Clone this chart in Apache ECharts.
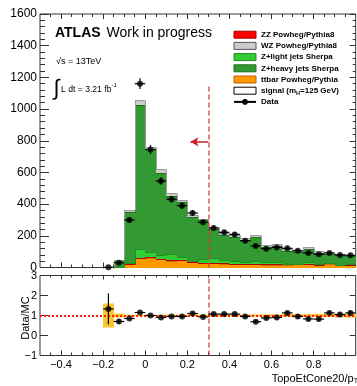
<!DOCTYPE html>
<html><head><meta charset="utf-8">
<script src="https://cdn.jsdelivr.net/npm/echarts@6/dist/echarts.min.js"></script>
<style>html,body{margin:0;padding:0;background:#fff}#c{width:357px;height:386px}</style>
</head><body><div id="c"></div>
<script>
// ---- data ----
const binEdges = [-0.2,-0.15,-0.1,-0.05,0,0.05,0.1,0.15,0.2,0.25,0.3,0.35,0.4,0.45,0.5,0.55,0.6,0.65,0.7,0.75,0.8,0.85,0.9,0.95,1.0];
const ttbar  = [0, 2, 22, 58, 62, 52, 43, 47, 33, 26, 26, 24, 23, 21, 19, 18, 18, 18, 21, 21, 13, 25, 13, 13];
const zz     = [0, 0, 3, 5, 5, 4, 3, 3, 2, 2, 2, 2, 2, 2, 2, 1, 1, 1, 1, 1, 1, 1, 1, 1];
const zLight = [0, 3, 3, 52, 29, 21, 37, 16, 5, 24, 34, 19, 14, 13, 22, 15, 15, 4, 2, 12, 8, 1, 3, 8];
const zHeavy = [0.8, 40, 324, 910, 652, 522, 369, 349, 277, 248, 179, 158, 156, 138, 152, 97, 104, 83, 76, 81, 72, 59, 62, 51];
const wz     = [0.1, 3, 11, 35, 10, 20, 17, 10, 15, 8, 15, 13, 12, 10, 12, 11, 10, 8, 7, 12, 10, 8, 7, 7];
const dataVals = [1, 30, 300, 1160, 745, 546, 431, 390, 344, 285, 249, 222, 209, 169, 136, 119, 127, 121, 106, 92, 83, 92, 79, 77];
const dataErr  = [1, 6, 17, 34, 27, 23, 21, 20, 19, 17, 16, 15, 14, 13, 12, 11, 11, 11, 10, 10, 9, 10, 9, 9];
const ratioVals = [1.33, 0.70, 0.85, 1.15, 1.00, 0.90, 0.95, 0.95, 1.10, 0.93, 1.07, 1.07, 1.07, 0.95, 0.69, 0.88, 0.90, 1.13, 0.95, 0.83, 0.82, 1.13, 1.05, 1.13];
const ratioErr  = [0.77, 0.12, 0.05, 0.03, 0.04, 0.04, 0.05, 0.05, 0.06, 0.06, 0.07, 0.07, 0.07, 0.08, 0.08, 0.09, 0.09, 0.1, 0.1, 0.1, 0.11, 0.11, 0.12, 0.12];
const mcBand    = [0.6, 0.1, 0.04, 0.03, 0.03, 0.03, 0.04, 0.04, 0.04, 0.04, 0.05, 0.05, 0.05, 0.05, 0.05, 0.06, 0.06, 0.07, 0.07, 0.07, 0.08, 0.08, 0.09, 0.1];
const xMajorTicks = [-0.4, -0.2, 0, 0.2, 0.4, 0.6, 0.8];
const xMinorTicks = [-0.45,-0.35,-0.3,-0.25,-0.15,-0.1,-0.05,0.05,0.1,0.15,0.25,0.3,0.35,0.45,0.5,0.55,0.65,0.7,0.75,0.85,0.9,0.95];
const cutX = 0.3, cutTop = 1150, arrowY = 793, arrowEnd = 0.215;
const names = {zz:'ZZ Powheg/Pythia8', wz:'WZ Powheg/Pythia8', zl:'Z+light jets Sherpa', zh:'Z+heavy jets Sherpa', tt:'ttbar Powheg/Pythia', sig:'signal (m_H=125 GeV)', data:'Data'};

// ---- build ----
const FONT = 'Liberation Sans';
const nb = dataVals.length;
const centers = [];
for (let i = 0; i < nb; i++) centers.push((binEdges[i] + binEdges[i+1]) / 2);

const comps = [
  {name: names.tt, vals: ttbar,  color: '#ff9900', line: '#d06a00'},
  {name: names.zz, vals: zz,     color: '#ff0000', line: '#b00000'},
  {name: names.zl, vals: zLight, color: '#33cc33', line: '#1f8f1f'},
  {name: names.zh, vals: zHeavy, color: '#339933', line: '#1e6e1e'},
  {name: names.wz, vals: wz,     color: '#cccccc', line: '#9a9a9a'}
];
const cum = new Array(nb).fill(0);
const stackSeries = comps.map(c => {
  const rows = [];
  for (let i = 0; i < nb; i++) {
    const base = cum[i], top = cum[i] + c.vals[i];
    rows.push([binEdges[i], binEdges[i+1], base, top]);
  }
  for (let i = 0; i < nb; i++) cum[i] += c.vals[i];
  return {
    type: 'custom', name: c.name, xAxisIndex: 0, yAxisIndex: 0, z: 2,
    itemStyle: {color: c.color},
    data: rows,
    renderItem: (params, api) => {
      const i = params.dataIndex;
      const lo = api.value(0), hi = api.value(1), base = api.value(2), top = api.value(3);
      const a = api.coord([lo, top]), b = api.coord([hi, base]);
      const x0 = Math.round(a[0]), x1 = Math.round(b[0]);
      const y0 = Math.round(a[1]), y1 = Math.round(b[1]);
      const children = [];
      if (y1 - y0 > 0) children.push({type: 'rect', shape: {x: x0, y: y0, width: x1 - x0, height: y1 - y0}, style: {fill: c.color}});
      const prevTop = i > 0 ? rows[i-1][3] : base;
      const py = Math.round(api.coord([lo, prevTop])[1]);
      if (top - base > 0.5 || prevTop - (i>0?rows[i-1][2]:0) > 0.5) {
        children.push({type: 'line', shape: {x1: x0, y1: y0 + 0.5, x2: x1, y2: y0 + 0.5}, style: {stroke: c.line, lineWidth: 1}});
        children.push({type: 'line', shape: {x1: x0 + 0.5, y1: py + 0.5, x2: x0 + 0.5, y2: y0 + 0.5}, style: {stroke: c.line, lineWidth: 1}});
      }
      return {type: 'group', children};
    }
  };
});

function errRender(vals, errs, clampMin) {
  return (params, api) => {
    const i = params.dataIndex;
    const lo = binEdges[i], hi = binEdges[i+1], c = centers[i], v = vals[i], e = errs[i];
    const pl = api.coord([lo, v]), ph = api.coord([hi, v]);
    const pu = api.coord([c, v + e]), pd = api.coord([c, Math.max(v - e, clampMin)]);
    return {type: 'group', children: [
      {type: 'line', shape: {x1: pl[0], y1: pl[1], x2: ph[0], y2: ph[1]}, style: {stroke: '#000', lineWidth: 1.2}},
      {type: 'line', shape: {x1: pu[0], y1: pu[1], x2: pd[0], y2: pd[1]}, style: {stroke: '#000', lineWidth: 1.2}}
    ]};
  };
}

const dashStyle = {color: 'rgba(214,60,60,0.85)', type: [5, 3], width: 1.5};

const series = [
  ...stackSeries,
  {type: 'custom', name: names.sig, xAxisIndex: 0, yAxisIndex: 0, data: [], itemStyle: {color: '#fff'}, renderItem: () => null},
  {type: 'line', name: names.data, xAxisIndex: 0, yAxisIndex: 0, data: [], symbol: 'circle', symbolSize: 5,
   itemStyle: {color: '#000'}, lineStyle: {color: '#000', width: 1}},
  {type: 'custom', name: 'dataErr', xAxisIndex: 0, yAxisIndex: 0, z: 5, data: centers.map((c, i) => [c, dataVals[i]]),
   renderItem: errRender(dataVals, dataErr, 0)},
  {type: 'scatter', name: 'dataPts', xAxisIndex: 0, yAxisIndex: 0, z: 6, symbol: 'circle', symbolSize: 6,
   itemStyle: {color: '#000'}, data: centers.map((c, i) => [c, dataVals[i]]),
   markLine: {silent: true, symbol: 'none', animation: false, label: {show: false}, z: 4,
     data: [
       [{coord: [cutX, 0], lineStyle: dashStyle}, {coord: [cutX, cutTop]}],
       [{coord: [cutX, arrowY], symbol: 'none', lineStyle: {color: '#c81e1e', width: 1.5, type: 'solid'}},
        {coord: [arrowEnd, arrowY], symbol: 'arrow', symbolSize: [7, 8]}]
     ]}},
  // ratio panel
  {type: 'custom', name: 'band', xAxisIndex: 4, yAxisIndex: 2, z: 2, data: centers.map((c, i) => [c, 1]),
   renderItem: (params, api) => {
     const i = params.dataIndex;
     const a = api.coord([binEdges[i], 1 + mcBand[i]]), b = api.coord([binEdges[i+1], 1 - mcBand[i]]);
     const x0 = Math.round(a[0]), x1 = Math.round(b[0]);
     return {type: 'rect', shape: {x: x0, y: a[1], width: x1 - x0, height: b[1] - a[1]}, style: {fill: '#fbc531'}};
   }},
  {type: 'custom', name: 'ratioErr', xAxisIndex: 4, yAxisIndex: 2, z: 5, data: centers.map((c, i) => [c, ratioVals[i]]),
   renderItem: errRender(ratioVals, ratioErr, -1)},
  {type: 'scatter', name: 'ratioPts', xAxisIndex: 4, yAxisIndex: 2, z: 6, symbol: 'circle', symbolSize: 6,
   itemStyle: {color: '#000'}, data: centers.map((c, i) => [c, ratioVals[i]]),
   markLine: {silent: true, symbol: 'none', animation: false, label: {show: false}, z: 3,
     data: [
       {yAxis: 1, lineStyle: {color: '#ff1a00', type: [2, 2], width: 2}},
       {xAxis: cutX, lineStyle: dashStyle}
     ]}}
];

function xAx(grid, pos, ticks, len, labels) {
  return {
    type: 'value', gridIndex: grid, position: pos, min: -0.5, max: 1.0,
    axisLine: {show: false, onZero: false}, splitLine: {show: false},
    axisTick: {show: true, inside: true, length: len, customValues: ticks, lineStyle: {color: '#333'}},
    axisLabel: labels ? {show: true, customValues: ticks, fontFamily: FONT, fontSize: 11, color: '#000', margin: 4,
      formatter: v => (v < 0 ? '\u2212' : '') + String(Math.abs(Math.round(v * 10) / 10))} : {show: false}
  };
}
const xAxis = [
  xAx(0, 'bottom', xMajorTicks, 5, false), xAx(0, 'bottom', xMinorTicks, 3, false),
  xAx(0, 'top', xMajorTicks, 5, false), xAx(0, 'top', xMinorTicks, 3, false),
  xAx(1, 'bottom', xMajorTicks, 5, true), xAx(1, 'bottom', xMinorTicks, 3, false),
  xAx(1, 'top', xMajorTicks, 4, false), xAx(1, 'top', xMinorTicks, 2, false)
];
const yAxis = [
  {type: 'value', gridIndex: 0, position: 'left', min: 0, max: 1600, interval: 200,
   axisLine: {show: false, onZero: false}, splitLine: {show: false},
   axisTick: {inside: true, length: 9, lineStyle: {color: '#333'}},
   minorTick: {show: true, splitNumber: 5, length: 5, lineStyle: {color: '#333'}},
   axisLabel: {fontFamily: FONT, fontSize: 12, color: '#000', margin: 3, formatter: v => String(v)}},
  {type: 'value', gridIndex: 0, position: 'right', min: 0, max: 1600, interval: 200,
   axisLine: {show: false, onZero: false}, splitLine: {show: false},
   axisTick: {inside: true, length: 6, lineStyle: {color: '#333'}},
   minorTick: {show: true, splitNumber: 5, length: 3, lineStyle: {color: '#333'}},
   axisLabel: {show: false}},
  {type: 'value', gridIndex: 1, position: 'left', min: -1, max: 3, interval: 1,
   axisLine: {show: false, onZero: false}, splitLine: {show: false},
   axisTick: {inside: true, length: 8, lineStyle: {color: '#333'}},
   axisLabel: {fontFamily: FONT, fontSize: 11, color: '#000', margin: 3,
     formatter: v => (v < 0 ? '\u2212' : '') + Math.abs(v)}},
  {type: 'value', gridIndex: 1, position: 'right', min: -1, max: 3, interval: 1,
   axisLine: {show: false, onZero: false}, splitLine: {show: false},
   axisTick: {inside: true, length: 6, lineStyle: {color: '#333'}},
   axisLabel: {show: false}}
];

const legendData = [
  {name: names.zz, icon: 'rect', itemStyle: {color: '#ff0000', borderColor: '#a00000', borderWidth: 1}},
  {name: names.wz, icon: 'rect', itemStyle: {color: '#cccccc', borderColor: '#555', borderWidth: 1}},
  {name: names.zl, icon: 'rect', itemStyle: {color: '#33cc33', borderColor: '#1f8f1f', borderWidth: 1}},
  {name: names.zh, icon: 'rect', itemStyle: {color: '#339933', borderColor: '#1e6e1e', borderWidth: 1}},
  {name: names.tt, icon: 'rect', itemStyle: {color: '#ff9900', borderColor: '#c06000', borderWidth: 1}},
  {name: names.sig, icon: 'rect', itemStyle: {color: '#ffffff', borderColor: '#000', borderWidth: 1}},
  {name: names.data}
];

const option = {
  animation: false,
  backgroundColor: '#fff',
  grid: [
    {left: 40, top: 14, width: 315.7, height: 253.5, show: true, borderColor: '#333', borderWidth: 1, backgroundColor: 'transparent'},
    {left: 40, top: 275.5, width: 315.7, height: 80, show: true, borderColor: '#333', borderWidth: 1, backgroundColor: 'transparent'}
  ],
  xAxis, yAxis,
  legend: {
    orient: 'vertical', left: 233, top: 29.2, itemWidth: 22, itemHeight: 7, itemGap: 0.2, padding: 0,
    selectedMode: false, data: legendData,
    textStyle: {fontFamily: FONT, fontWeight: 'bold', fontSize: 8, lineHeight: 11, color: '#000',
      rich: {sub: {fontFamily: FONT, fontWeight: 'bold', fontSize: 5.5, lineHeight: 8, verticalAlign: 'bottom', color: '#000'}}},
    formatter: n => n === names.sig ? 'signal (m{sub|H}=125 GeV)' : n
  },
  graphic: [
    {type: 'text', x: 55, y: 33, style: {text: 'ATLAS', font: 'bold 14px "Liberation Sans"', fill: '#000', verticalAlign: 'middle'}},
    {type: 'text', x: 106.5, y: 33, style: {text: 'Work in progress', font: '14px "Liberation Sans"', fill: '#000', verticalAlign: 'middle'}},
    {type: 'text', x: 56, y: 61.7, style: {text: '\u221As = 13TeV', font: '9px "Liberation Sans"', fill: '#000', verticalAlign: 'middle'}},
    {type: 'text', x: 53.5, y: 88.5, style: {text: '\u222B', font: '22px "Liberation Sans"', fill: '#000', verticalAlign: 'middle'}},
    {type: 'text', x: 61, y: 89.5, style: {text: 'L dt = 3.21 fb', font: '8.6px "Liberation Sans"', fill: '#000', verticalAlign: 'middle'}},
    {type: 'text', x: 111.5, y: 85, style: {text: '-1', font: '6px "Liberation Sans"', fill: '#000', verticalAlign: 'middle'}},
    {type: 'text', x: 26, y: 318, rotation: Math.PI / 2, style: {text: 'Data/MC', font: '11px "Liberation Sans"', fill: '#000', align: 'center', verticalAlign: 'middle'}},
    {type: 'text', x: 271.7, y: 378, style: {text: '{a|TopoEtCone20/p}{s|T}', fill: '#000', verticalAlign: 'middle',
      rich: {a: {font: '11px "Liberation Sans"', fill: '#000', verticalAlign: 'bottom', lineHeight: 13}, s: {font: '7px "Liberation Sans"', fill: '#000', verticalAlign: 'bottom', lineHeight: 10}}}}
  ],
  series
};
const chart = echarts.init(document.getElementById('c'), null, {renderer: 'canvas'});
chart.setOption(option);
</script>
</body></html>
